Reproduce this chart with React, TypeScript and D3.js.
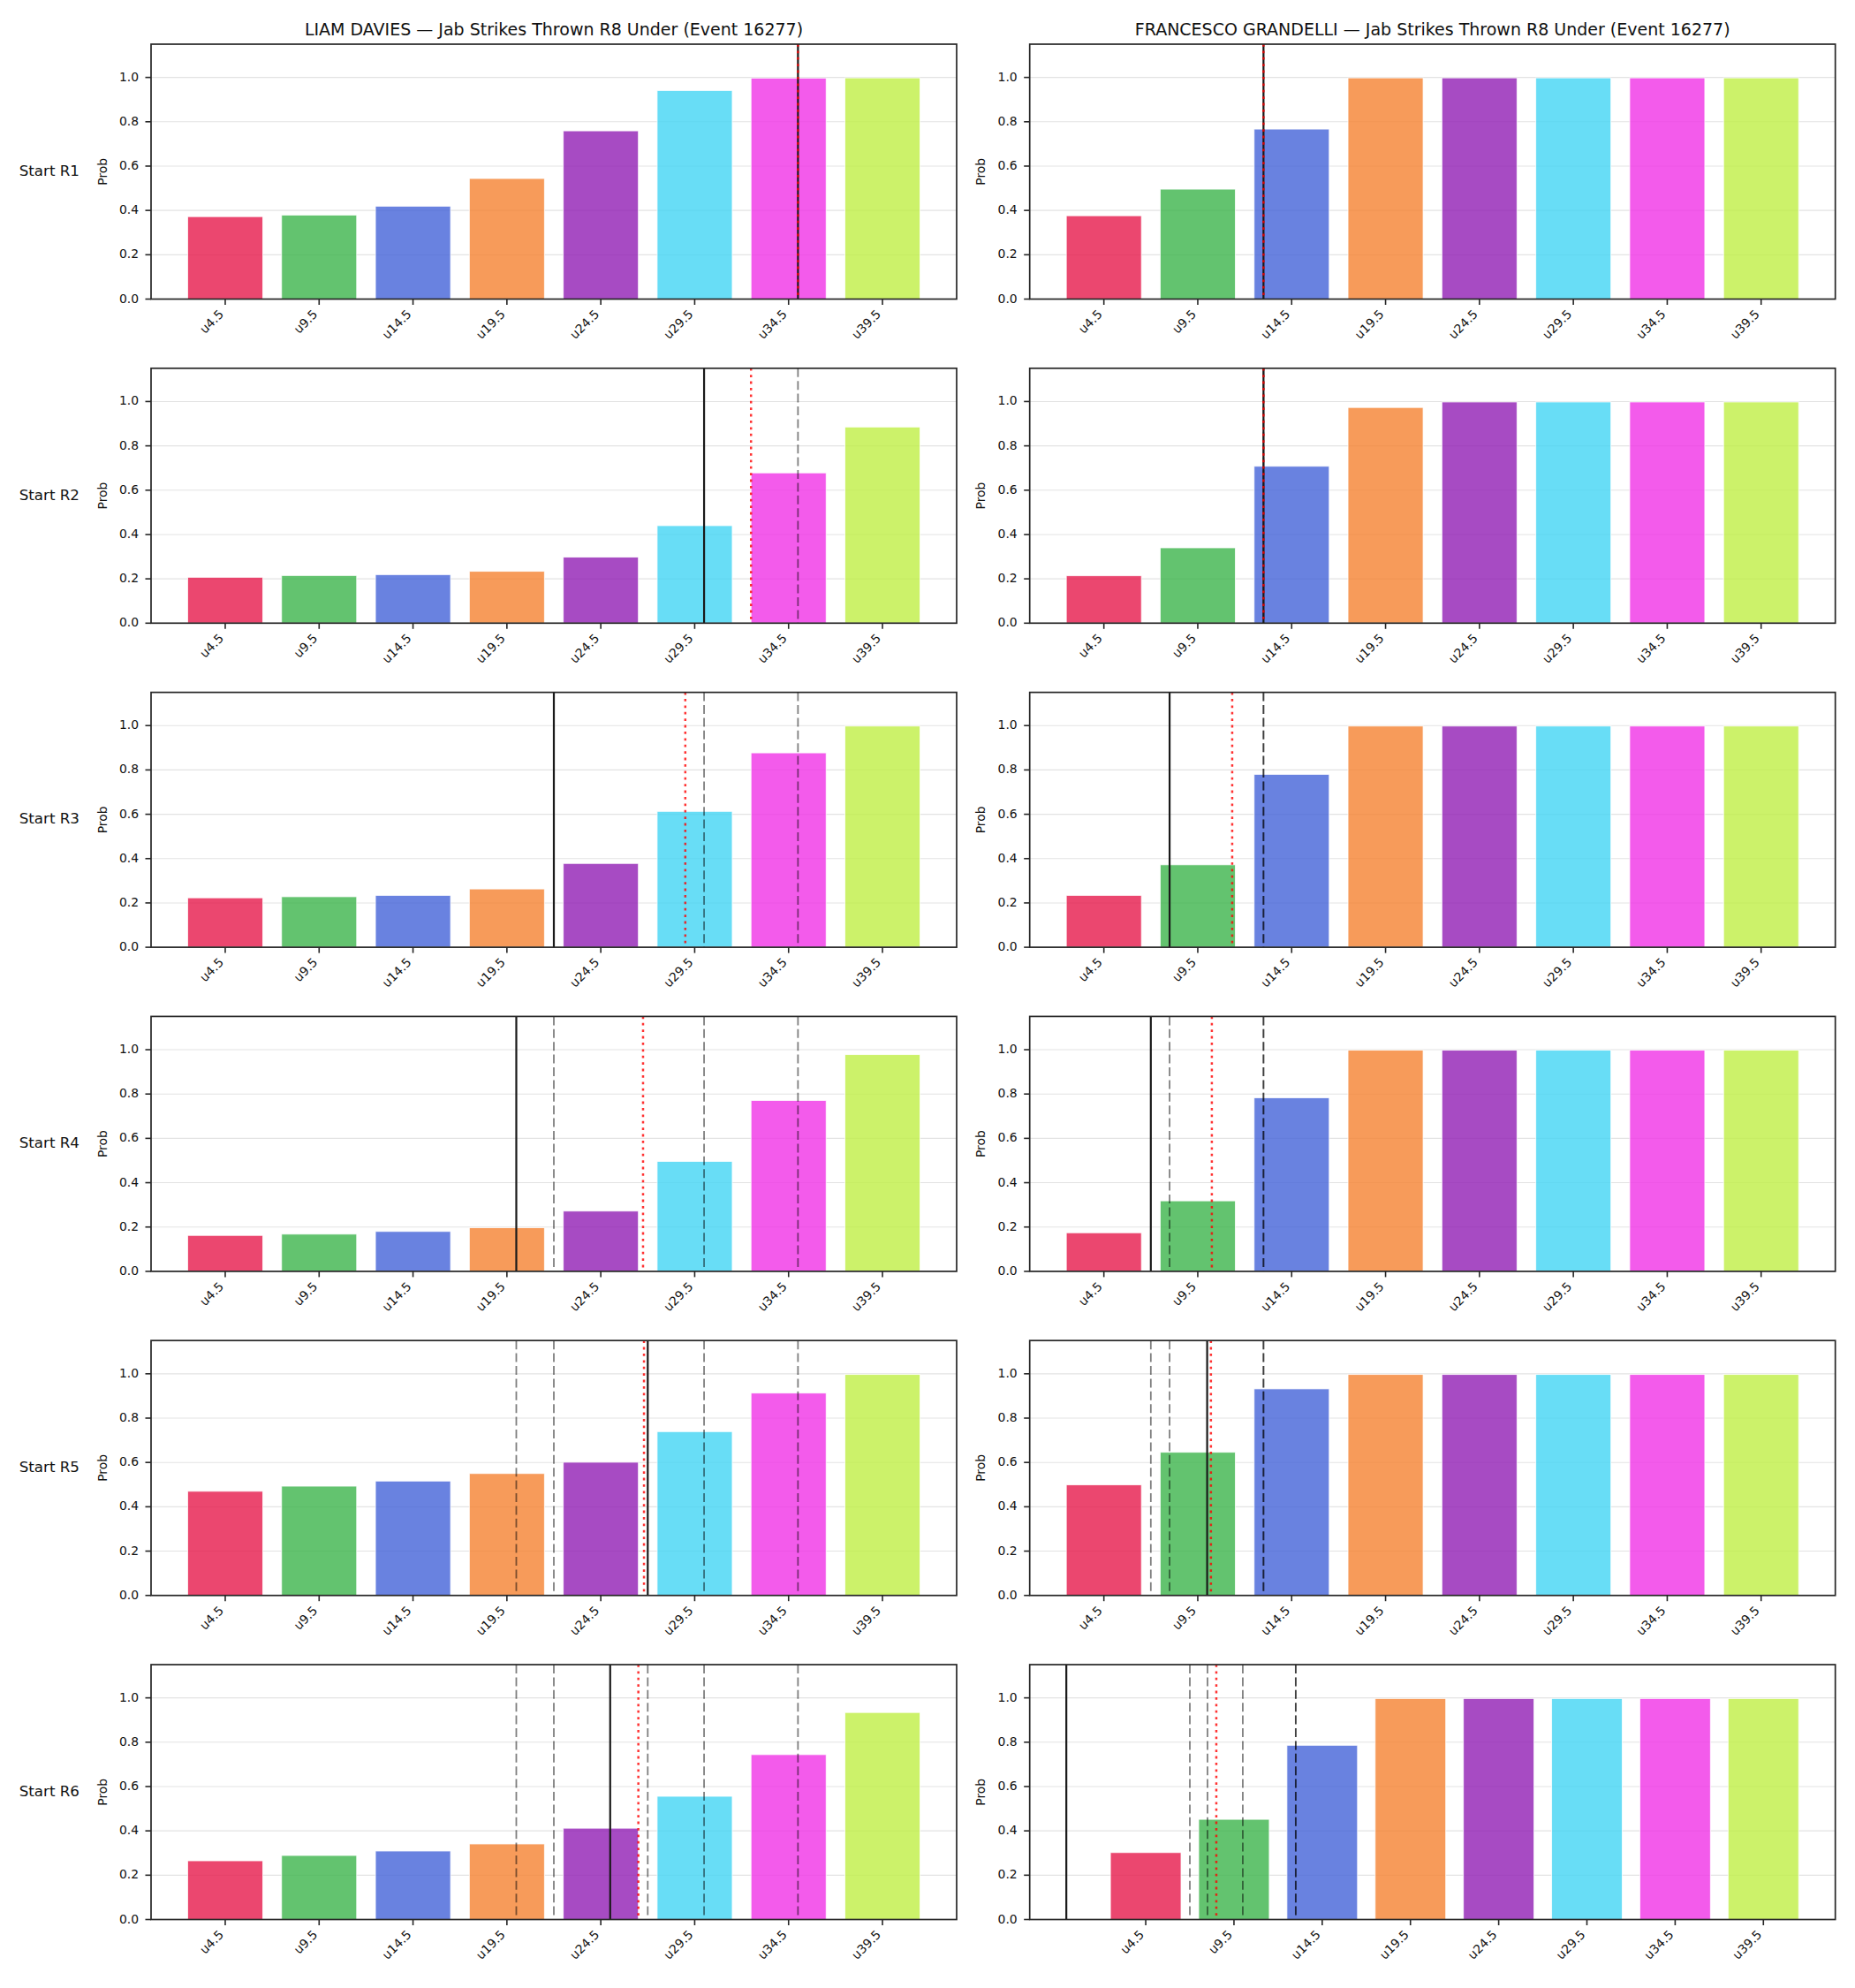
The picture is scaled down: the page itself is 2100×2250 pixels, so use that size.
import React from "react";
import * as d3 from "d3";

// Under thresholds for the prop, one bar per threshold
const thresholds = [4.5, 9.5, 14.5, 19.5, 24.5, 29.5, 34.5, 39.5];
const tickLabels = ["u4.5", "u9.5", "u14.5", "u19.5", "u24.5", "u29.5", "u34.5", "u39.5"];
const barColors = ["#e6194b", "#3cb44b", "#4363d8", "#f58231", "#911eb4", "#42d4f4", "#f032e6", "#bfef45"];
const roundLabels = ["Start R1", "Start R2", "Start R3", "Start R4", "Start R5", "Start R6"];
const fighterNames = ["LIAM DAVIES", "FRANCESCO GRANDELLI"];
const marketTitle = "Jab Strikes Thrown R8 Under (Event 16277)";
const yTicks = [0, 0.2, 0.4, 0.6, 0.8, 1.0];

// P(under) per starting round, per threshold
const daviesProbs = [
  [0.372, 0.379, 0.419, 0.544, 0.759, 0.941, 0.997, 0.998],
  [0.207, 0.215, 0.219, 0.234, 0.298, 0.44, 0.678, 0.885],
  [0.223, 0.228, 0.234, 0.263, 0.378, 0.613, 0.877, 0.998],
  [0.162, 0.168, 0.18, 0.197, 0.272, 0.496, 0.771, 0.978],
  [0.47, 0.493, 0.516, 0.55, 0.601, 0.739, 0.913, 0.997],
  [0.265, 0.289, 0.309, 0.341, 0.412, 0.556, 0.744, 0.934],
];
const grandelliProbs = [
  [0.376, 0.496, 0.767, 0.998, 0.998, 0.998, 0.998, 0.998],
  [0.214, 0.34, 0.708, 0.973, 0.998, 0.998, 0.998, 0.998],
  [0.234, 0.372, 0.78, 0.998, 0.998, 0.998, 0.998, 0.998],
  [0.174, 0.318, 0.783, 0.998, 0.998, 0.998, 0.998, 0.998],
  [0.499, 0.646, 0.932, 0.997, 0.997, 0.997, 0.997, 0.997],
  [0.302, 0.452, 0.786, 0.997, 0.997, 0.997, 0.997, 0.997],
];

// Projected total at the start of each round
const daviesLines = [35, 30, 22, 20, 27, 25];
const grandelliLines = [13, 13, 8, 7, 10, 0];

const WIDTH = 2100;
const HEIGHT = 2250;
const AX_LEFT = [171, 1165.7];
const AX_W = 912;
const AX_TOP = 50;
const AX_H = 288.5;
const ROW_PITCH = 366.8;
const FONT = "'DejaVu Sans', sans-serif";
const SPINE = "#262626";

// threshold value -> category position
const valueToIndex = d3
  .scaleLinear()
  .domain([thresholds[0], thresholds[1]])
  .range([0, 1]);

type PanelProps = {
  probs: number[];
  lines: number[];
  round: number;
  left: number;
  top: number;
  title?: string;
  rowLabel?: string;
};

function Panel({ probs, lines, round, left, top, title, rowLabel }: PanelProps) {
  const current = lines[round];
  const previous = lines.slice(0, round);
  const runningMean = d3.mean(lines.slice(0, round + 1)) as number;
  const lineIdx = lines.slice(0, round + 1).map((v) => valueToIndex(v));

  const lo = Math.min(-0.4, ...lineIdx);
  const hi = Math.max(thresholds.length - 1 + 0.4, ...lineIdx);
  const pad = 0.05 * (hi - lo);
  const x = d3.scaleLinear().domain([lo - pad, hi + pad]).range([0, AX_W]);
  const y = d3.scaleLinear().domain([0, 1.15]).range([AX_H, 0]);

  return (
    <g transform={`translate(${left},${top})`}>
      {title && (
        <text
          x={AX_W / 2}
          y={-15.5}
          textAnchor="middle"
          dominantBaseline="middle"
          fontSize={19}
          fontFamily={FONT}
          fill="#111"
        >
          {title}
        </text>
      )}
      {rowLabel && (
        <text
          x={-81}
          y={AX_H / 2}
          textAnchor="end"
          dominantBaseline="middle"
          fontSize={16.7}
          fontFamily={FONT}
          fill="#111"
        >
          {rowLabel}
        </text>
      )}
      <text
        transform={`translate(${-54.3},${AX_H / 2}) rotate(-90)`}
        textAnchor="middle"
        dominantBaseline="middle"
        fontSize={13.9}
        fontFamily={FONT}
        fill="#111"
      >
        Prob
      </text>

      {/* horizontal grid */}
      {yTicks.map((t) => (
        <line key={`g${t}`} x1={0} x2={AX_W} y1={y(t)} y2={y(t)} stroke="#e3e3e3" strokeWidth={1.1} />
      ))}

      {/* bars */}
      {probs.map((p, i) => (
        <rect
          key={`b${i}`}
          x={x(i - 0.4)}
          width={x(i + 0.4) - x(i - 0.4)}
          y={y(p)}
          height={y(0) - y(p)}
          fill={barColors[i]}
          fillOpacity={0.8}
          stroke="#ffffff"
          strokeOpacity={0.8}
          strokeWidth={1}
        />
      ))}

      {/* earlier rounds' lines */}
      {previous.map((v, k) => (
        <line
          key={`d${k}`}
          x1={x(valueToIndex(v))}
          x2={x(valueToIndex(v))}
          y1={0}
          y2={AX_H}
          stroke="#000"
          strokeOpacity={0.5}
          strokeWidth={1.8}
          strokeDasharray="10,4.4"
        />
      ))}
      {/* current line */}
      <line
        x1={x(valueToIndex(current))}
        x2={x(valueToIndex(current))}
        y1={0}
        y2={AX_H}
        stroke="#1a1a1a"
        strokeWidth={2.2}
      />
      {/* running mean */}
      <line
        x1={x(valueToIndex(runningMean))}
        x2={x(valueToIndex(runningMean))}
        y1={0}
        y2={AX_H}
        stroke="#ff0000"
        strokeOpacity={0.8}
        strokeWidth={2.5}
        strokeDasharray="2.8,4.6"
      />

      {/* y axis ticks */}
      {yTicks.map((t) => (
        <g key={`yt${t}`}>
          <line x1={-6.5} x2={0} y1={y(t)} y2={y(t)} stroke={SPINE} strokeWidth={1.6} />
          <text
            x={-14}
            y={y(t)}
            textAnchor="end"
            dominantBaseline="middle"
            fontSize={13.9}
            fontFamily={FONT}
            fill="#111"
          >
            {t.toFixed(1)}
          </text>
        </g>
      ))}

      {/* x axis ticks */}
      {tickLabels.map((lab, i) => (
        <g key={`xt${i}`}>
          <line x1={x(i)} x2={x(i)} y1={AX_H} y2={AX_H + 6.5} stroke={SPINE} strokeWidth={1.6} />
          <text
            transform={`translate(${x(i) - 1},${AX_H + 18}) rotate(-45)`}
            textAnchor="end"
            fontSize={13.9}
            fontFamily={FONT}
            fill="#111"
          >
            {lab}
          </text>
        </g>
      ))}

      {/* frame */}
      <rect x={0} y={0} width={AX_W} height={AX_H} fill="none" stroke={SPINE} strokeWidth={1.7} />
    </g>
  );
}

export default function App() {
  const fighters = [
    { name: fighterNames[0], probs: daviesProbs, lines: daviesLines },
    { name: fighterNames[1], probs: grandelliProbs, lines: grandelliLines },
  ];
  return (
    <svg
      width={WIDTH}
      height={HEIGHT}
      viewBox={`0 0 ${WIDTH} ${HEIGHT}`}
      style={{ position: "absolute", left: 0, top: 0, display: "block", background: "#fff" }}
    >
      <rect width={WIDTH} height={HEIGHT} fill="#fff" />
      {roundLabels.map((rl, r) =>
        fighters.map((f, c) => (
          <Panel
            key={`${r}-${c}`}
            probs={f.probs[r]}
            lines={f.lines}
            round={r}
            left={AX_LEFT[c]}
            top={AX_TOP + r * ROW_PITCH}
            title={r === 0 ? `${f.name} — ${marketTitle}` : undefined}
            rowLabel={c === 0 ? rl : undefined}
          />
        ))
      )}
    </svg>
  );
}
